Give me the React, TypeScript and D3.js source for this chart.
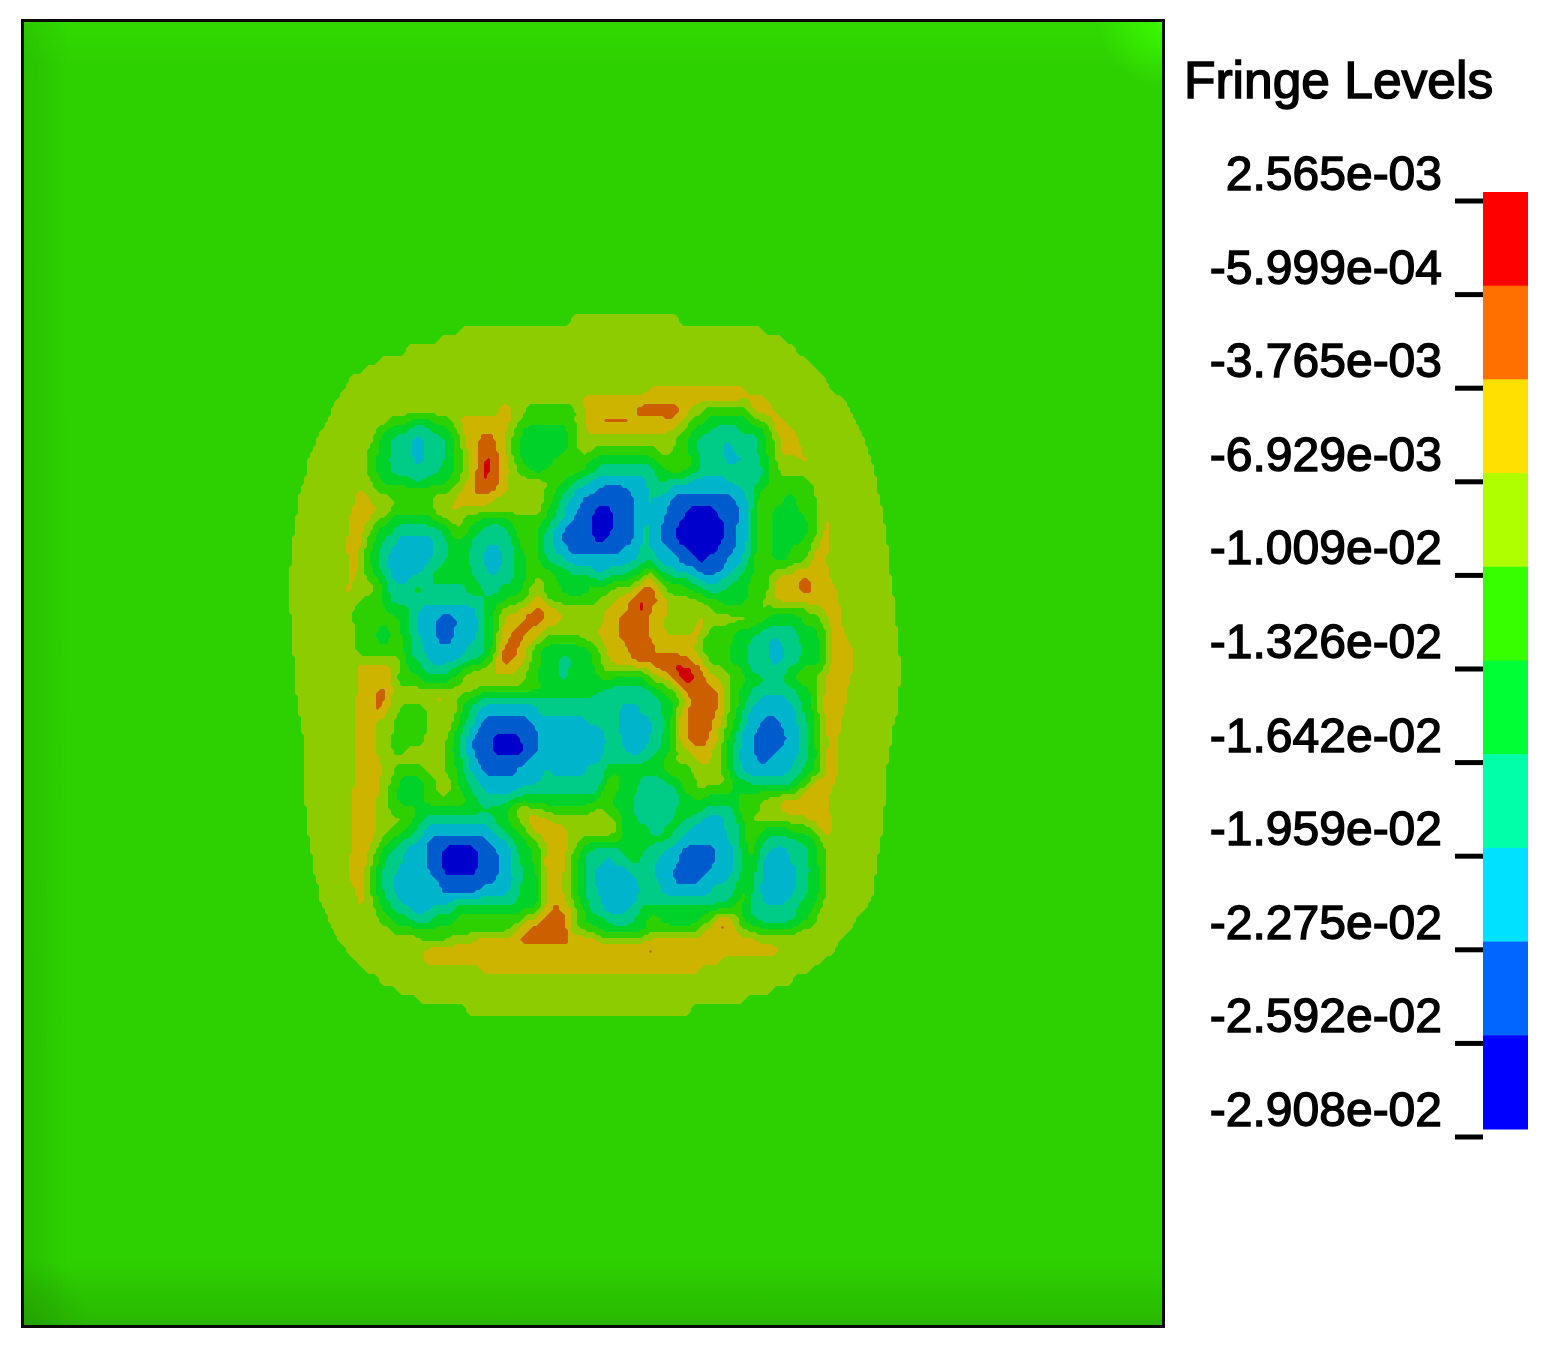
import React, { useMemo } from "react";
import * as d3 from "d3";

// Fringe bands, lowest to highest
const levelKeys = ["d", "b", "c", "t", "g", "n", "p", "y", "o", "r"];
const fieldColors = ["#0000cc", "#005ccc", "#00b4cc", "#00cc88", "#00d22c", "#2dd000", "#8ccc00", "#ccb400", "#cc6000", "#d00000"];
const legendColors = ["#0000ff", "#0066ff", "#00e0ff", "#00ffa8", "#00ff34", "#38ff00", "#b0ff00", "#ffe000", "#ff7000", "#ff0000"];
const tickLabels = ["2.565e-03", "-5.999e-04", "-3.765e-03", "-6.929e-03", "-1.009e-02", "-1.326e-02", "-1.642e-02", "-1.959e-02", "-2.275e-02", "-2.592e-02", "-2.908e-02"];

// Outer limit of the deformed zone, one pair per scan line (y = 320, 330, ... 1010)
const zoneStart = [570, 460, 440, 407, 380, 363, 350, 342, 336, 332, 327, 322, 316, 312, 308, 306, 304, 301, 299, 297, 295, 294, 293, 292, 291, 290, 290, 290, 290, 290, 291, 291, 292, 293, 294, 295, 296, 296, 297, 299, 300, 302, 303, 303, 303, 304, 304, 305, 305, 306, 307, 308, 309, 310, 312, 314, 316, 318, 320, 325, 329, 333, 338, 345, 354, 365, 378, 397, 418, 465];
const zoneEnd = [680, 763, 783, 795, 807, 817, 827, 833, 843, 850, 855, 860, 864, 867, 871, 874, 876, 878, 881, 883, 884, 886, 887, 888, 889, 890, 891, 892, 894, 895, 896, 897, 898, 899, 900, 900, 900, 899, 898, 897, 895, 893, 891, 890, 889, 887, 886, 885, 885, 884, 883, 882, 881, 879, 877, 876, 875, 873, 871, 865, 857, 851, 842, 835, 822, 810, 792, 772, 745, 690];

// Band read along each scan line inside the zone: band, x where it ends, next band, ...
const scanLines = [
  "p", "p", "p", "p", "p", "p", "p",
  "p 650 y 745 p",
  "p 580 y 765 p",
  "p 500 y 513 p 527 n 577 p 587 y 633 o 682 y 690 p 702 n 747 p 752 y 775 p",
  "p 390 n 413 g 430 n 450 p 457 y 507 p 520 n 573 p 587 y 597 o 635 y 668 o 673 y 680 p 690 n 705 g 752 n 763 p 772 y 783 p",
  "p 377 n 387 g 407 t 433 g 447 n 457 p 463 y 510 p 513 n 523 g 567 n 577 p 583 y 670 p 685 n 693 g 713 t 740 g 763 n 773 y 793 p",
  "p 372 n 380 g 390 t 412 c 423 t 445 g 455 n 463 y 477 o 497 y 503 p 510 n 520 g 567 n 577 p 677 n 688 g 697 t 723 c 730 t 760 g 767 n 777 y 800 p",
  "p 368 n 378 g 390 t 412 c 423 t 445 g 455 n 463 p 467 y 477 o 497 y 507 n 520 g 567 n 577 p 595 n 657 p 672 n 688 g 698 t 723 c 732 t 758 g 767 n 775 y 803 p",
  "p 367 n 375 g 388 t 412 c 427 t 445 g 455 n 463 p 470 y 477 o 483 r 492 o 498 y 510 n 520 g 557 n 567 p 570 n 590 g 653 n 690 g 702 t 725 c 747 t 760 g 768 n 778 p 798 y 812 p",
  "p 368 n 376 g 392 t 440 g 453 n 463 p 470 y 478 o 480 r 491 o 498 y 510 p 517 n 528 g 547 n 557 p 567 n 587 g 597 t 655 g 663 n 690 g 700 t 762 g 770 n 778 p 810 y 820 p",
  "p 371 n 382 g 410 t 427 g 450 n 460 p 470 y 477 o 479 r 488 o 498 y 507 p 557 n 562 g 573 t 588 c 645 t 658 g 665 t 687 c 728 t 762 g 772 n 810 p",
  "p 358 y 363 p 375 n 450 p 460 y 470 o 498 y 508 p 545 n 557 g 567 t 578 c 597 b 627 c 648 t 658 g 662 t 670 c 742 t 752 g 760 n 813 p 822 y 826 p",
  "p 355 y 370 p 395 n 430 p 453 y 493 p 543 n 552 g 560 t 568 c 582 b 633 c 647 t 653 c 670 b 735 c 747 t 755 g 757 n 783 g 797 n 817 p 823 y 827 p",
  "p 353 y 387 p 392 n 437 p 440 y 457 p 540 n 548 g 555 t 565 c 578 b 595 d 612 b 635 c 645 t 652 c 667 b 687 d 715 b 738 c 748 t 755 n 773 g 800 n 817 p 823 y 828 p",
  "p 350 y 370 p 375 n 390 g 430 n 450 p 463 n 477 g 510 n 547 g 555 t 565 c 575 b 592 d 613 b 635 c 645 t 648 c 665 b 683 d 722 b 738 c 747 t 755 n 773 g 807 n 817 p 822 y 829 p",
  "p 348 y 363 p 370 n 380 g 393 t 443 g 448 n 457 p 462 n 468 g 480 t 507 g 515 n 537 g 545 t 553 c 563 b 592 d 613 b 635 c 643 t 652 c 662 b 675 d 727 b 737 c 747 t 755 n 773 g 807 n 817 p 823 y 829 p",
  "p 347 y 362 p 368 n 377 g 383 t 397 c 433 t 448 g 473 t 513 g 518 n 538 g 543 t 552 c 562 b 595 d 603 b 633 c 643 t 650 c 658 b 675 d 720 b 737 c 747 t 755 n 773 g 803 n 816 p 820 y 828 p",
  "p 347 y 360 p 365 n 370 g 380 t 390 c 437 t 450 g 468 t 483 c 503 t 515 g 523 n 538 g 543 t 553 c 567 b 622 c 640 t 650 c 670 b 688 d 718 b 735 c 745 t 753 n 773 g 790 n 810 p 815 y 828 p",
  "p 348 y 358 p 365 n 370 g 378 t 388 c 430 t 445 g 470 t 485 c 502 t 515 g 525 n 538 g 548 t 565 c 637 t 648 g 652 t 658 c 678 b 697 d 705 b 728 c 742 t 752 n 773 g 787 n 807 p 810 y 827 p",
  "p 350 y 357 p 365 n 373 g 380 t 388 c 423 t 437 g 472 t 487 c 498 t 513 g 525 n 533 p 537 n 552 g 572 t 592 c 607 t 627 g 645 p 653 g 658 t 672 c 697 b 723 c 736 t 744 g 753 n 773 p 793 y 828 p",
  "p 348 y 355 p 368 n 380 g 387 t 390 c 410 t 428 g 475 t 515 g 525 n 537 p 543 n 557 g 597 t 607 g 635 n 640 p 645 y 655 p 658 n 665 g 687 t 698 c 720 t 737 g 750 n 772 y 800 o 807 y 830 p",
  "p 343 y 352 p 375 n 382 g 388 t 413 g 423 t 467 g 483 t 500 g 523 n 530 p 543 n 563 g 590 n 610 p 632 y 640 o 655 y 662 p 667 n 690 g 707 t 723 g 748 n 770 p 775 y 798 o 815 y 837 p",
  "p 360 n 382 g 390 t 408 g 413 t 485 g 507 n 528 y 543 n 597 p 615 y 627 o 637 r 645 o 662 y 668 p 703 n 720 g 747 n 763 p 772 y 838 p",
  "p 353 n 385 g 408 t 418 c 475 t 485 g 495 n 500 p 518 y 532 o 550 y 563 p 603 y 628 o 637 r 645 o 650 y 670 p 713 n 757 p 767 n 807 p 823 y 842 p",
  "p 353 n 400 g 408 t 418 c 437 b 458 c 477 t 483 g 493 n 503 y 522 o 543 y 563 p 603 y 618 o 650 y 663 p 697 y 707 p 750 n 767 g 803 n 820 p 830 y 842 p",
  "p 357 n 377 g 390 n 400 g 408 t 418 c 437 b 453 c 477 t 485 g 493 n 500 y 513 o 528 y 542 p 597 y 617 o 638 r 641 o 648 y 663 p 693 y 707 n 733 g 760 t 797 g 817 n 828 y 845 p",
  "p 355 n 377 g 390 n 402 g 412 t 422 c 435 b 453 c 475 t 487 g 493 n 500 y 507 o 523 y 537 p 543 n 580 p 597 y 623 o 650 y 700 n 733 g 750 t 770 c 778 t 800 g 820 n 830 y 848 p",
  "p 355 n 403 g 408 t 423 c 467 t 483 g 493 n 497 y 503 o 517 y 530 n 537 g 593 n 600 p 608 y 627 o 642 r 653 y 697 n 730 g 747 t 770 c 783 t 803 g 820 n 828 y 852 p",
  "p 350 y 355 p 402 n 407 g 417 t 427 c 460 t 480 g 490 n 495 y 500 o 513 y 530 n 543 g 555 t 575 g 593 n 598 p 610 y 630 o 658 r 675 o 687 y 705 n 728 g 745 t 770 c 783 t 803 g 823 n 830 y 852 p",
  "p 355 y 397 n 408 g 423 t 450 g 460 n 470 p 483 y 518 p 527 n 537 g 560 t 568 g 595 n 603 p 650 y 657 o 673 r 693 o 702 y 707 p 727 n 743 g 750 t 787 g 800 n 823 p 830 y 852 p",
  "p 357 y 395 n 420 g 450 n 463 p 525 n 537 g 560 t 568 g 600 n 610 g 645 n 653 p 667 y 675 o 678 r 695 o 705 y 718 p 733 n 747 g 765 t 782 g 793 n 813 p 822 y 850 p",
  "p 357 y 375 o 387 y 395 p 477 n 590 g 600 t 653 g 665 n 677 y 685 o 717 y 725 p 730 n 737 g 748 t 800 g 810 n 817 p 825 y 847 p",
  "p 355 y 375 o 386 y 390 p 425 y 450 p 457 n 465 g 480 t 660 g 673 n 685 y 690 o 717 y 725 p 733 n 742 g 750 t 760 c 787 t 798 g 812 n 817 p 823 y 847 p",
  "p 356 y 374 o 383 y 387 p 400 n 430 p 457 n 461 g 470 t 477 c 537 t 620 c 640 t 660 g 672 n 680 y 687 o 717 y 723 p 728 n 737 g 742 t 747 c 797 t 803 g 813 n 818 p 822 y 845 p",
  "p 355 y 375 p 395 n 427 p 457 n 461 g 470 t 477 c 480 b 530 c 585 t 620 c 653 t 663 g 672 n 677 y 685 o 713 y 723 p 728 n 737 g 742 t 747 c 762 b 778 c 797 t 807 g 813 n 822 y 842 p",
  "p 355 y 373 p 393 n 428 p 450 n 455 g 462 t 468 c 477 b 537 c 600 t 620 c 653 t 663 g 672 n 677 y 688 o 712 y 718 p 725 n 732 g 737 t 743 c 758 b 785 c 798 t 807 g 813 n 820 p 823 y 840 p",
  "p 355 y 377 p 392 n 423 p 447 n 453 g 460 t 467 c 473 b 492 d 520 b 537 c 608 t 622 c 650 t 660 g 670 n 675 y 688 o 710 y 717 p 723 n 728 g 735 t 743 c 755 b 787 c 798 t 808 g 815 n 820 p 828 y 838 p",
  "p 355 y 375 p 392 n 407 p 443 n 452 g 457 t 465 c 472 b 490 d 527 b 540 c 605 t 625 c 647 t 660 g 675 n 680 p 687 y 712 p 722 n 727 g 733 t 740 c 755 b 777 c 798 t 808 g 817 n 822 p 825 y 838 p",
  "p 355 y 380 p 447 n 455 g 462 t 468 c 477 b 530 c 600 t 647 g 663 n 670 p 697 y 712 p 722 n 727 g 732 t 738 c 757 b 770 c 797 t 807 g 817 n 820 p 823 y 838 p",
  "p 355 y 383 p 395 n 423 p 443 n 457 g 463 t 470 c 480 b 517 c 543 t 550 c 587 t 603 g 662 n 690 p 722 n 727 g 733 t 743 c 790 t 803 g 815 n 822 p 825 y 838 p",
  "p 357 y 380 p 390 n 400 g 425 n 440 y 448 n 458 g 470 t 480 c 540 t 603 g 610 p 620 g 640 t 668 g 680 n 697 p 730 n 733 g 747 t 797 g 807 n 812 y 835 p",
  "p 353 y 380 p 388 n 398 g 425 n 440 y 447 n 460 g 470 t 480 c 522 t 600 g 603 p 615 g 637 t 678 g 683 n 697 p 705 n 733 g 797 n 803 y 832 p",
  "p 353 y 370 o 373 y 377 p 388 n 398 g 423 n 470 g 477 t 513 g 600 p 608 g 635 t 680 g 695 n 700 g 737 n 760 p 780 y 830 p",
  "p 353 y 375 p 387 n 420 g 503 n 513 y 530 p 543 n 590 p 603 n 620 g 635 t 677 g 705 t 733 g 738 n 760 p 777 y 806 o 814 y 830 p",
  "p 353 y 377 p 405 n 412 g 420 t 493 g 508 n 523 y 553 p 615 n 623 g 637 t 673 g 687 t 700 c 727 t 738 g 743 n 748 p 807 y 832 p",
  "p 353 y 375 p 392 n 405 g 417 t 427 c 493 t 503 g 513 n 530 y 567 p 618 n 623 g 648 t 663 g 675 t 688 c 723 t 740 g 745 n 763 g 790 n 817 y 832 p",
  "p 352 y 373 p 382 n 390 g 402 t 415 c 427 b 488 c 507 t 513 g 527 n 538 p 543 y 567 p 580 n 622 g 670 t 678 c 730 t 740 g 745 n 757 g 763 t 803 g 817 n 823 p 832 y 837 p",
  "p 352 y 370 p 377 n 383 g 393 t 407 c 427 b 443 d 478 b 497 c 510 t 517 g 532 n 543 p 547 y 553 o 558 y 567 p 573 n 582 g 587 t 623 g 645 t 663 c 683 b 717 c 733 t 742 g 747 n 753 g 760 t 772 c 787 t 807 g 817 n 825 p 832 y 837 p",
  "p 350 y 368 p 372 n 378 g 385 t 403 c 427 b 443 d 478 b 498 c 510 t 520 g 532 n 542 y 553 o 558 y 565 p 570 n 578 g 585 t 603 c 613 t 628 g 640 t 658 c 680 b 715 c 733 t 742 g 747 n 755 g 760 t 763 c 790 t 808 g 818 n 825 p 832 y 837 p",
  "p 348 y 367 p 369 n 375 g 382 t 397 c 427 b 443 d 477 b 498 c 512 t 522 g 537 n 543 y 552 o 558 y 563 p 572 n 578 g 585 t 595 c 632 t 640 g 645 t 653 c 672 b 710 c 732 t 742 g 747 n 750 g 755 t 760 c 798 t 810 g 820 n 825 p 832 y 837 p",
  "p 350 y 363 p 368 n 375 g 382 t 395 c 437 b 497 c 513 t 522 g 537 n 543 y 562 p 572 n 578 g 585 t 593 c 637 t 657 c 673 b 700 c 728 t 740 g 745 n 750 g 753 t 762 c 797 t 808 g 820 n 825 p 831 y 835 p",
  "p 355 y 363 p 370 n 375 g 382 t 395 c 443 b 480 c 510 t 520 g 537 n 545 y 563 p 572 n 578 g 585 t 598 c 640 t 660 c 713 t 735 g 742 n 747 g 750 t 760 c 795 t 807 g 820 n 825 p",
  "p 357 y 363 p 372 n 378 g 387 t 398 c 450 t 518 g 537 n 545 y 552 o 558 y 565 p 572 n 578 g 585 t 600 c 638 t 730 g 740 n 747 g 752 t 763 c 787 t 803 g 817 n 823 p",
  "p 358 y 364 p 377 n 383 g 393 t 408 c 430 t 455 g 538 n 542 y 552 o 560 y 570 p 580 n 585 g 590 t 600 c 627 t 640 g 730 n 743 g 748 t 797 g 812 n 820 p",
  "p 380 n 392 g 412 t 433 g 453 n 522 y 540 o 568 y 572 p 578 n 587 g 607 t 633 g 647 n 660 g 700 n 712 y 720 o 728 y 733 p 740 n 743 g 757 t 795 g 807 n 817 p",
  "p 395 n 510 p 517 y 525 o 568 y 572 n 597 g 650 n 697 p 702 y 718 o 728 y 737 p 747 n 797 p",
  "p 420 n 450 p 472 y 513 o 585 y 597 p 650 y 760 p",
  "p 397 y 407 p 425 y 588 o 597 y 643 o 655 y 780 p",
  "p 422 y 720 p",
  "p 480 y 700 p",
  "p", "p", "p", "p",
];

const parseLine = (line: string) => {
  const tok = line.split(" ");
  const stops: { level: number; end: number }[] = [];
  for (let i = 0; i < tok.length; i += 2) {
    stops.push({ level: levelKeys.indexOf(tok[i]), end: i + 1 < tok.length ? +tok[i + 1] : Infinity });
  }
  return stops;
};

const cell = 3;
const nx = 210;
const ny = 240;
const backgroundLevel = levelKeys.indexOf("n");

function buildField() {
  const rows = scanLines.map(parseLine);
  const rowScale = d3.scaleLinear().domain([320, 1010]).range([0, rows.length - 1]);
  const data = new Float64Array(nx * ny);
  for (let j = 0; j < ny; j++) {
    const y = 305 + (j + 0.5) * cell;
    const r = Math.round(rowScale(y));
    for (let i = 0; i < nx; i++) {
      const x = 280 + (i + 0.5) * cell;
      let v = backgroundLevel;
      if (r >= 0 && r < rows.length && x >= zoneStart[r] && x <= zoneEnd[r]) {
        v = rows[r].find((s) => x <= s.end)!.level;
      }
      data[j * nx + i] = v;
    }
  }
  d3.blur2({ data, width: nx, height: ny }, 0.8, 1.4);
  return data;
}

export default function App() {
  const bands = useMemo(() => {
    const data = buildField();
    const neg = data.map((v) => -v);
    const gen = d3.contours().size([nx, ny]).smooth(false);
    const xs = d3.scaleLinear().domain([0, nx]).range([280, 910]);
    const ys = d3.scaleLinear().domain([0, ny]).range([305, 1025]);
    const path = d3.geoPath(
      d3.geoTransform({
        point(x: number, y: number) {
          (this as any).stream.point(xs(x), ys(y));
        },
      })
    );
    const out: { d: string; fill: string }[] = [];
    for (let l = backgroundLevel + 1; l < levelKeys.length; l++) {
      out.push({ d: path(gen.contour(data as any, l - 0.5) as any) || "", fill: fieldColors[l] });
    }
    for (let l = backgroundLevel - 1; l >= 0; l--) {
      out.push({ d: path(gen.contour(neg as any, -(l + 0.5)) as any) || "", fill: fieldColors[l] });
    }
    return out;
  }, []);

  const barScale = d3
    .scaleBand<string>()
    .domain([...levelKeys].reverse())
    .range([192, 1129]);
  const tickScale = d3
    .scalePoint<string>()
    .domain(tickLabels)
    .range([201, 1137]);

  const font = "'Liberation Sans', Arial, sans-serif";

  return (
    <svg width={1550} height={1349} style={{ position: "absolute", left: 0, top: 0, background: "#fff" }}>
      <defs>
        <linearGradient id="vShade" x1="0" x2="0" y1="0" y2="1">
          <stop offset="0" stopColor="#31da00" />
          <stop offset="0.035" stopColor="#2ed100" />
          <stop offset="0.95" stopColor="#2dd000" />
          <stop offset="1" stopColor="#29b800" />
        </linearGradient>
        <linearGradient id="hShade" x1="0" x2="1" y1="0" y2="0">
          <stop offset="0" stopColor="#1c9000" stopOpacity="0.25" />
          <stop offset="0.04" stopColor="#1c9000" stopOpacity="0" />
        </linearGradient>
        <radialGradient id="glow" cx="1163" cy="21" r="65" gradientUnits="userSpaceOnUse">
          <stop offset="0" stopColor="#3cfa00" stopOpacity="1" />
          <stop offset="1" stopColor="#3cfa00" stopOpacity="0" />
        </radialGradient>
        <radialGradient id="dim" cx="22" cy="1327" r="70" gradientUnits="userSpaceOnUse">
          <stop offset="0" stopColor="#208f00" stopOpacity="0.45" />
          <stop offset="1" stopColor="#208f00" stopOpacity="0" />
        </radialGradient>
        <filter id="soft" x="-5%" y="-5%" width="110%" height="110%">
          <feGaussianBlur stdDeviation="0.6" />
        </filter>
      </defs>

      <rect x={22.5} y={20.5} width={1141} height={1306} fill="url(#vShade)" />
      <rect x={22.5} y={20.5} width={1141} height={1306} fill="url(#hShade)" />
      <rect x={22.5} y={20.5} width={1141} height={1306} fill="url(#glow)" />
      <rect x={22.5} y={20.5} width={1141} height={1306} fill="url(#dim)" />
      <g filter="url(#soft)">
        {bands.map((b, i) => (
          <path key={i} d={b.d} fill={b.fill} />
        ))}
      </g>
      <rect x={22.5} y={20.5} width={1141} height={1306} fill="none" stroke="#0a0a0a" strokeWidth={3} />

      <text x={1184} y={98} fontFamily={font} fontSize={51.5} fill="#000" stroke="#000" strokeWidth={1.5} filter="url(#soft)">
        Fringe Levels
      </text>

      {[...levelKeys].reverse().map((k, i) => (
        <rect key={k} x={1483} y={barScale(k)} width={45} height={barScale.bandwidth() + 0.5} fill={legendColors[legendColors.length - 1 - i]} />
      ))}
      {tickLabels.map((t) => {
        const y = tickScale(t)!;
        return (
          <g key={t}>
            <line x1={1455} x2={1483} y1={y} y2={y} stroke="#000" strokeWidth={5} />
            <text x={1442} y={y - 11} textAnchor="end" fontFamily={font} fontSize={48} fill="#000" stroke="#000" strokeWidth={1.4} filter="url(#soft)">
              {t}
            </text>
          </g>
        );
      })}
    </svg>
  );
}
